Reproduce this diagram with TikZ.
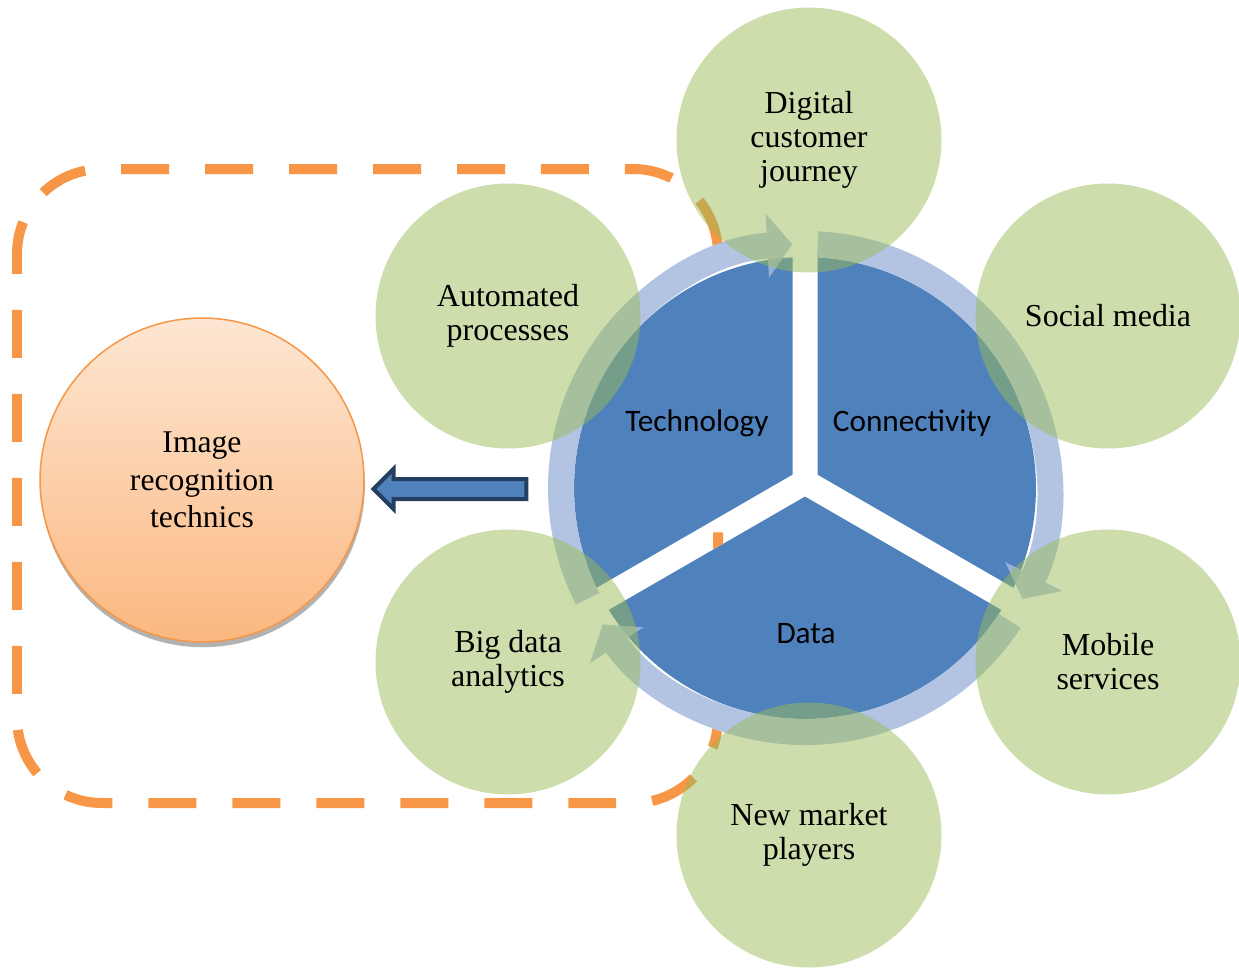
\documentclass[tikz,border=0pt]{standalone}
\usepackage{fontspec}
\setmainfont{Liberation Serif}
\newfontfamily\calibrifont{Carlito}
\usetikzlibrary{arrows.meta,shapes.arrows,shadows}

\definecolor{dashorange}{HTML}{F79646}
\definecolor{ringblue}{RGB}{165,186,220}
\definecolor{coreblue}{HTML}{4F81BD}
\definecolor{leafgreen}{HTML}{9BBB59}
\definecolor{arrowedge}{HTML}{243F60}
\definecolor{peachtop}{HTML}{FDE6D3}
\definecolor{peachbottom}{HTML}{FBB880}

% the white Y that splits the hub
\def\ygap{(792.5,474.8) -- (792.5,217) -- (817.5,217) -- (817.5,474.8)
  -- (1040.75,603.7) -- (1028.25,625.3) -- (805,496.4)
  -- (581.75,625.3) -- (569.25,603.7) -- cycle}

\begin{document}
\begin{tikzpicture}[
    x=0.02cm, y=-0.02cm,
    every node/.style={font=\fontsize{18.2}{19.4}\selectfont},
    leaf/.style={circle, fill=leafgreen, fill opacity=0.5, text opacity=1, minimum size=5.3cm, inner sep=0pt, align=center},
    hub/.style={circle, inner sep=0pt},
    sector/.style={font=\calibrifont\fontsize{17.8}{20}\selectfont},
    dashbox/.style={draw=dashorange, line width=0.2cm, dash pattern=on 0.96cm off 0.72cm, dash phase=0.56cm, rounded corners=1.7cm},
    ringarrow/.style={draw=ringblue, line width=0.52cm, -{Triangle[width=1.26cm, length=0.5cm]}},
    imgnode/.style={circle, draw=dashorange, line width=0.03cm, top color=peachtop, bottom color=peachbottom, minimum size=6.48cm, align=center, font=\fontsize{18}{21.3}\selectfont,
        drop shadow={shadow xshift=0.5pt, shadow yshift=-3pt, fill=black!60, opacity=0.5}},
    bigarrow/.style={single arrow, shape border rotate=180, fill=coreblue, draw=arrowedge, line width=0.08cm, inner xsep=0pt, inner ysep=0.16cm, minimum height=3.06cm, single arrow head extend=0.2cm}
]
\useasboundingbox (0,0) rectangle (1239,967);

\draw[dashbox] (17,169) rectangle (718,803);

% hub
\node[hub, fill=white, minimum size=10.3cm] (ring) at (805,488) {};
\node[hub, fill=coreblue, minimum size=9.24cm] (core) at (ring.center) {};
\fill[white] \ygap;
\begin{scope}
  \clip \ygap;
  \draw[dashbox] (17,169) rectangle (718,803);
\end{scope}

% arrows round the ring
\begin{scope}[shift={(ring.center)}, yscale=-1, transparency group, opacity=0.85]
  \draw[ringarrow] (207:244) arc[start angle=207, end angle=93, radius=244];
  \draw[ringarrow] (87:244) arc[start angle=87, end angle=-27, radius=244];
  \draw[ringarrow] (-33:244) arc[start angle=-33, end angle=-146, radius=244];
\end{scope}

\node[leaf] (journey) at (809,140) {Digital\\customer\\journey};
\node[leaf] (social) at (1108,316) {Social media};
\node[leaf] (mobile) at (1108,662) {Mobile\\services};
\node[leaf] (players) at (809,835) {New market\\players};
\node[leaf] (bigdata) at (508,662) {Big data\\analytics};
\node[leaf] (automated) at (508,316) {Automated\\processes};

\node[sector] (tech) at (697,423) {Technology};
\node[sector] (conn) at (912,423) {Connectivity};
\node[sector] (data) at (806,634) {Data};

\node[imgnode] (image) at (202,480) {Image\\recognition\\technics};
\node[bigarrow] (arr) at (455,489) {};
\end{tikzpicture}
\end{document}
